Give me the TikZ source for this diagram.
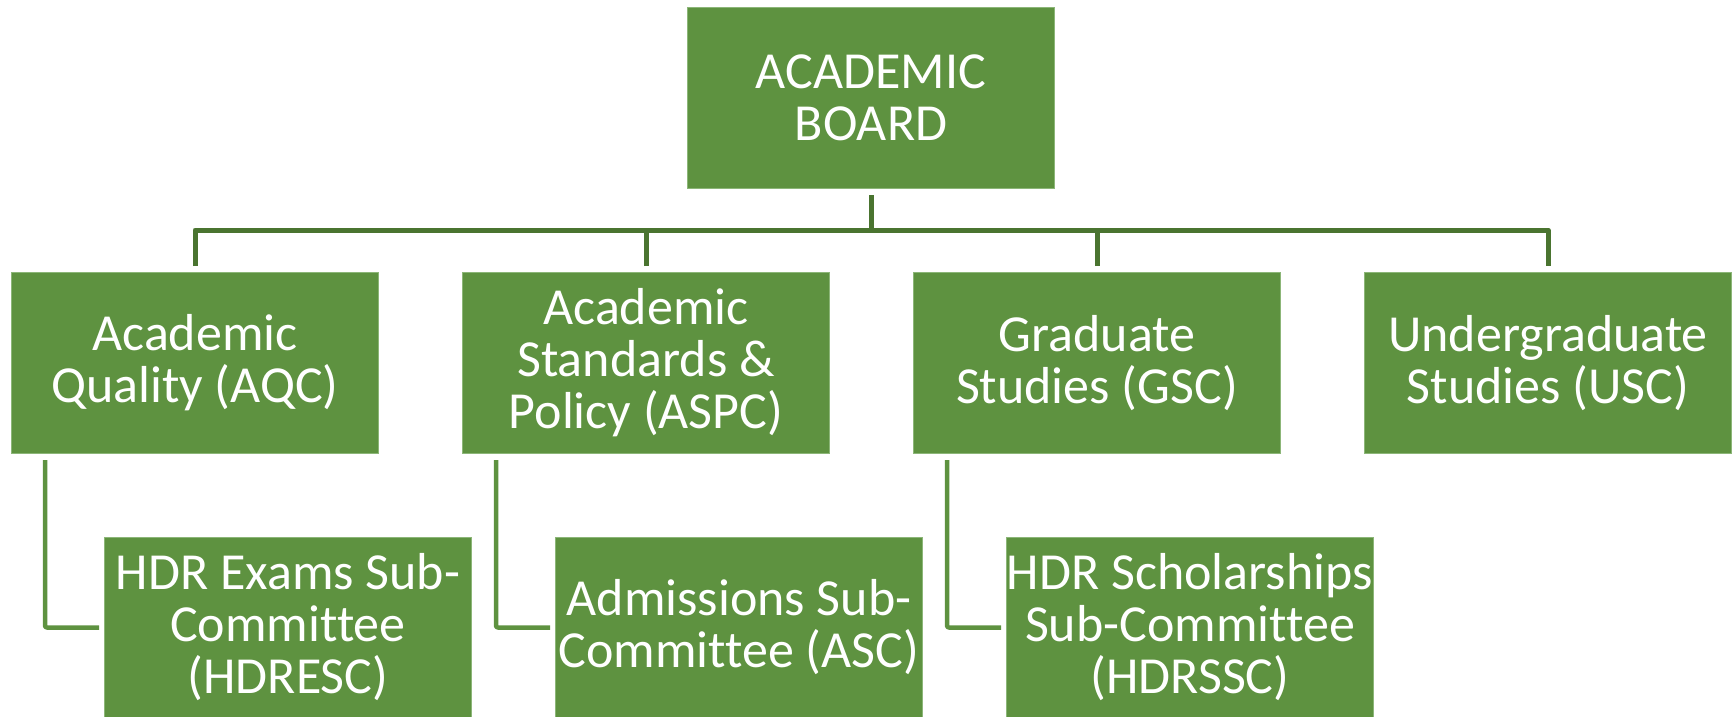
\documentclass[tikz,border=0pt]{standalone}
\usepackage{fontspec}
\setmainfont{Carlito}[Ligatures={NoCommon}]
\definecolor{boxgreen}{RGB}{94,146,64}
\definecolor{boxedge}{RGB}{140,182,120}
\definecolor{linegreen}{RGB}{74,116,48}
\begin{document}
\begin{tikzpicture}[x=1pt,y=-1pt,
  box/.style={draw=boxedge, line width=1pt, fill=boxgreen, minimum width=367pt,
    minimum height=181pt, inner sep=0pt, text=white,
    font=\fontsize{52}{52}\selectfont, align=center, anchor=north west},
  topline/.style={draw=linegreen, line width=5pt, line join=round},
  elbow/.style={draw=boxgreen, line width=4.5pt, line join=round, rounded corners=2pt}]
\useasboundingbox (0,0) rectangle (1735,717);
\clip (0,0) rectangle (1735,717);
\node[box] (ab) at (687,7) {ACADEMIC\\BOARD};
\node[box] (aqc) at (11,272) {Academic\\Quality (AQC)};
\node[box] (aspc) at (462,272) {Academic\\Standards \&\\Policy (ASPC)};
\node[box] (gsc) at (913,272) {Graduate\\Studies (GSC)};
\node[box] (usc) at (1364,272) {Undergraduate\\Studies (USC)};
\node[box, minimum height=180pt] (hdresc) at (104,537) {HDR Exams Sub-\\Committee\\(HDRESC)};
\node[box, minimum height=180pt] (asc) at (555,537) {Admissions Sub-\\Committee (ASC)};
\node[box, minimum height=180pt] (hdrssc) at (1006,537) {HDR Scholarships\\Sub-Committee\\(HDRSSC)};
\draw[topline] ([yshift=-6pt]ab.south) -- (ab.south |- 0,230);
\draw[topline] ([yshift=6pt]aqc.north) -- (aqc.north |- 0,230) -- (usc.north |- 0,230) -- ([yshift=6pt]usc.north);
\draw[topline] ([yshift=6pt]aspc.north) -- (aspc.north |- 0,230);
\draw[topline] ([yshift=6pt]gsc.north) -- (gsc.north |- 0,230);
\draw[elbow] ([xshift=34pt,yshift=-6pt]aqc.south west) |- ([xshift=-5pt]hdresc.west);
\draw[elbow] ([xshift=34pt,yshift=-6pt]aspc.south west) |- ([xshift=-5pt]asc.west);
\draw[elbow] ([xshift=34pt,yshift=-6pt]gsc.south west) |- ([xshift=-5pt]hdrssc.west);
\end{tikzpicture}
\end{document}
